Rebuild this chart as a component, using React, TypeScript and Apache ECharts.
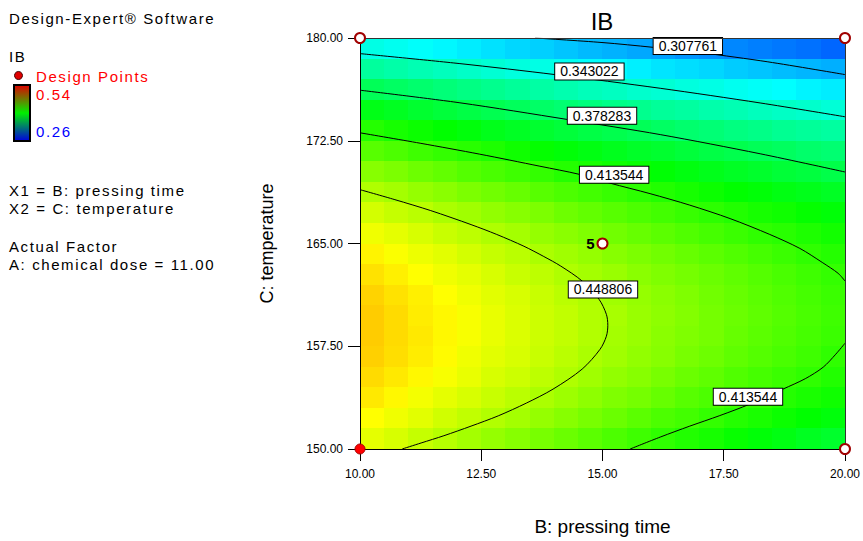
import React, { useEffect, useRef } from "react";
import * as echarts from "echarts";

const FONT = '"Liberation Sans", Arial, Helvetica, sans-serif';

// Factor axes: B = pressing time, C = temperature
const pressingTicks = [10, 12.5, 15, 17.5, 20];
const temperatureTicks = [150, 157.5, 165, 172.5, 180];

// Colour scale limits of the IB response
const ibRange = [0.26, 0.54];

// Cell centres of the predicted IB surface (chemical dose held at 11.00)
const cellCentresB = [10.25, 10.75, 11.25, 11.75, 12.25, 12.75, 13.25, 13.75, 14.25, 14.75, 15.25, 15.75, 16.25, 16.75, 17.25, 17.75, 18.25, 18.75, 19.25, 19.75];
const cellCentresC = [150.75, 152.25, 153.75, 155.25, 156.75, 158.25, 159.75, 161.25, 162.75, 164.25, 165.75, 167.25, 168.75, 170.25, 171.75, 173.25, 174.75, 176.25, 177.75, 179.25];
const CELL_W = 0.5;
const CELL_H = 1.5;

// Predicted IB, one row per temperature (150.75 upward), one column per pressing time
const ibSurface = [
  [0.463, 0.459, 0.454, 0.450, 0.445, 0.441, 0.437, 0.433, 0.429, 0.425, 0.421, 0.417, 0.413, 0.409, 0.406, 0.402, 0.398, 0.395, 0.391, 0.388],
  [0.470, 0.466, 0.462, 0.457, 0.453, 0.449, 0.445, 0.441, 0.437, 0.433, 0.429, 0.425, 0.421, 0.418, 0.414, 0.410, 0.407, 0.403, 0.400, 0.397],
  [0.476, 0.472, 0.467, 0.463, 0.459, 0.455, 0.451, 0.447, 0.443, 0.439, 0.435, 0.432, 0.428, 0.424, 0.421, 0.417, 0.414, 0.410, 0.407, 0.404],
  [0.480, 0.476, 0.472, 0.468, 0.464, 0.459, 0.456, 0.452, 0.448, 0.444, 0.440, 0.437, 0.433, 0.429, 0.426, 0.422, 0.419, 0.416, 0.413, 0.409],
  [0.483, 0.479, 0.475, 0.471, 0.466, 0.462, 0.459, 0.455, 0.451, 0.447, 0.444, 0.440, 0.437, 0.433, 0.430, 0.426, 0.423, 0.420, 0.417, 0.413],
  [0.484, 0.480, 0.476, 0.472, 0.468, 0.464, 0.460, 0.456, 0.453, 0.449, 0.445, 0.442, 0.438, 0.435, 0.432, 0.428, 0.425, 0.422, 0.419, 0.416],
  [0.484, 0.480, 0.475, 0.472, 0.468, 0.464, 0.460, 0.456, 0.453, 0.449, 0.446, 0.442, 0.439, 0.436, 0.432, 0.429, 0.426, 0.423, 0.420, 0.417],
  [0.482, 0.478, 0.474, 0.470, 0.466, 0.462, 0.459, 0.455, 0.451, 0.448, 0.444, 0.441, 0.438, 0.435, 0.431, 0.428, 0.425, 0.422, 0.419, 0.416],
  [0.478, 0.474, 0.470, 0.466, 0.463, 0.459, 0.455, 0.452, 0.448, 0.445, 0.442, 0.438, 0.435, 0.432, 0.429, 0.426, 0.423, 0.420, 0.417, 0.414],
  [0.473, 0.469, 0.465, 0.462, 0.458, 0.454, 0.451, 0.447, 0.444, 0.441, 0.437, 0.434, 0.431, 0.428, 0.425, 0.422, 0.419, 0.416, 0.413, 0.410],
  [0.466, 0.463, 0.459, 0.455, 0.452, 0.448, 0.445, 0.441, 0.438, 0.435, 0.431, 0.428, 0.425, 0.422, 0.419, 0.416, 0.413, 0.411, 0.408, 0.405],
  [0.458, 0.454, 0.451, 0.447, 0.444, 0.440, 0.437, 0.434, 0.430, 0.427, 0.424, 0.421, 0.418, 0.415, 0.412, 0.409, 0.406, 0.404, 0.401, 0.398],
  [0.448, 0.445, 0.441, 0.438, 0.434, 0.431, 0.428, 0.424, 0.421, 0.418, 0.415, 0.412, 0.409, 0.406, 0.403, 0.400, 0.398, 0.395, 0.393, 0.390],
  [0.437, 0.434, 0.430, 0.427, 0.423, 0.420, 0.417, 0.414, 0.410, 0.407, 0.404, 0.402, 0.399, 0.396, 0.393, 0.390, 0.388, 0.385, 0.383, 0.380],
  [0.424, 0.421, 0.417, 0.414, 0.411, 0.408, 0.404, 0.401, 0.398, 0.395, 0.392, 0.389, 0.387, 0.384, 0.381, 0.379, 0.376, 0.374, 0.371, 0.369],
  [0.410, 0.406, 0.403, 0.400, 0.397, 0.393, 0.390, 0.387, 0.384, 0.381, 0.379, 0.376, 0.373, 0.370, 0.368, 0.365, 0.363, 0.360, 0.358, 0.356],
  [0.394, 0.391, 0.387, 0.384, 0.381, 0.378, 0.375, 0.372, 0.369, 0.366, 0.363, 0.361, 0.358, 0.356, 0.353, 0.351, 0.348, 0.346, 0.344, 0.341],
  [0.376, 0.373, 0.370, 0.367, 0.364, 0.361, 0.358, 0.355, 0.352, 0.349, 0.347, 0.344, 0.342, 0.339, 0.337, 0.334, 0.332, 0.330, 0.327, 0.325],
  [0.357, 0.354, 0.351, 0.348, 0.345, 0.342, 0.339, 0.337, 0.334, 0.331, 0.329, 0.326, 0.323, 0.321, 0.319, 0.316, 0.314, 0.312, 0.310, 0.308],
  [0.337, 0.334, 0.331, 0.328, 0.325, 0.322, 0.319, 0.317, 0.314, 0.311, 0.309, 0.306, 0.304, 0.301, 0.299, 0.297, 0.295, 0.293, 0.291, 0.288],
];

// Contour lines of IB, as [pressing time, temperature] points
const contour307761 = [[13.61, 180], [14.99, 179.67], [16.04, 179.32], [17.05, 178.92], [18.41, 178.26], [20, 177.33]];
const contour343022 = [[10, 178.86], [12.06, 178.13], [14.02, 177.33], [16.19, 176.33], [18.25, 175.26], [20, 174.25]];
const contour378283 = [[10, 176.19], [12.06, 175.27], [14.28, 174.05], [16.19, 172.95], [18.25, 171.55], [20, 170.22]];
const contour413544Upper = [[10, 173.08], [11.24, 172.32], [12.47, 171.52], [13.71, 170.64], [14.52, 170.05], [15.15, 169.41], [15.98, 168.64], [16.8, 167.8], [17.63, 166.82], [18.45, 165.66], [19.07, 164.64], [19.53, 163.62], [19.86, 162.82], [20, 162.26]];
const contour413544Lower = [[20, 157.72], [19.81, 156.92], [19.55, 155.97], [19.18, 155.13], [18.72, 154.37], [18.04, 153.28], [17.42, 152.44], [16.8, 151.67], [16.19, 150.87], [15.57, 150]];
const contour448806 = [[10, 168.93], [10.72, 168.2], [11.46, 167.4], [12.29, 166.38], [12.82, 165.66], [13.38, 164.8], [13.79, 164.05], [14.14, 163.35], [14.58, 162.26], [14.93, 160.92], [15.08, 159.83], [15.11, 159.03], [15.08, 158.23], [14.95, 157.28], [14.58, 155.83], [13.98, 154.37], [13.43, 153.35], [12.85, 152.42], [12.29, 151.67], [11.73, 150.97], [11.26, 150.44], [10.87, 150]];

// Level labels placed on the contour lines
const contourLabels: [number, number, string][] = [
  [16.76, 179.42, "0.307761"],
  [14.73, 177.56, "0.343022"],
  [14.99, 174.32, "0.378283"],
  [15.24, 170.02, "0.413544"],
  [15.01, 161.65, "0.448806"],
  [18.0, 153.82, "0.413544"],
];

// Design points: factorial corners and centre point (5 replicates)
const designPointsOpen = [[10, 180], [20, 180], [20, 150]];
const designPointsFilled = [[10, 150]];
const centrePoint = [15, 165];
const centreReplicates = 5;

// Settings shown in the side panel
const chemicalDose = 11;
const factorNotes = ["X1 = B: pressing time", "X2 = C: temperature"];

const fmt2 = (v: number) => v.toFixed(2);

function buildPlotOption() {
  const fieldData: number[][] = [];
  ibSurface.forEach((row, j) =>
    row.forEach((v, i) => fieldData.push([cellCentresB[i], cellCentresC[j], v]))
  );

  const contourLines = [contour307761, contour343022, contour378283, contour413544Upper, contour413544Lower, contour448806];

  const axisCommon = {
    axisLine: { show: true, lineStyle: { color: "#000", width: 1 } },
    axisTick: { show: true, length: 12, inside: false, lineStyle: { color: "#000", width: 1 } },
    splitLine: { show: false },
    z: 10,
  };
  const frameAxis = {
    axisLine: { show: true, lineStyle: { color: "#333", width: 1 } },
    axisTick: { show: false },
    axisLabel: { show: false },
    splitLine: { show: false },
    z: 10,
  };

  const bMin = pressingTicks[0];
  const bMax = pressingTicks[pressingTicks.length - 1];
  const cMin = temperatureTicks[0];
  const cMax = temperatureTicks[temperatureTicks.length - 1];

  return {
    animation: false,
    textStyle: { fontFamily: FONT },
    grid: { left: 360, top: 38, width: 485, height: 412, show: false },
    xAxis: [
      {
        type: "value",
        position: "bottom",
        min: bMin,
        max: bMax,
        interval: pressingTicks[1] - pressingTicks[0],
        name: "B: pressing time",
        nameLocation: "middle",
        nameGap: 68,
        nameTextStyle: { fontSize: 19, color: "#000", fontFamily: FONT },
        axisLabel: { fontSize: 12, color: "#000", margin: 19, formatter: fmt2, fontFamily: FONT },
        ...axisCommon,
      },
      { type: "value", position: "top", min: bMin, max: bMax, ...frameAxis },
    ],
    yAxis: [
      {
        type: "value",
        position: "left",
        min: cMin,
        max: cMax,
        interval: temperatureTicks[1] - temperatureTicks[0],
        name: "C: temperature",
        nameLocation: "middle",
        nameGap: 84,
        nameTextStyle: { fontSize: 18, color: "#000", fontFamily: FONT },
        axisLabel: { fontSize: 12, color: "#000", margin: 17, formatter: fmt2, fontFamily: FONT },
        ...axisCommon,
      },
      { type: "value", position: "right", min: cMin, max: cMax, ...frameAxis },
    ],
    visualMap: {
      type: "continuous",
      show: false,
      min: ibRange[0],
      max: ibRange[1],
      dimension: 2,
      seriesIndex: 0,
      inRange: { color: ["#0000ff", "#00ffff", "#00ff00", "#ffff00", "#ff0000"] },
    },
    graphic: [
      {
        type: "text",
        x: 602,
        y: 21.5,
        style: {
          text: "IB",
          fill: "#000",
          fontSize: 24,
          fontFamily: FONT,
          textAlign: "center",
          textVerticalAlign: "middle",
        },
      },
    ],
    series: [
      {
        type: "custom",
        name: "IB",
        z: 1,
        silent: true,
        data: fieldData,
        encode: { x: 0, y: 1 },
        renderItem: (_params: any, api: any) => {
          const cx = api.value(0);
          const cy = api.value(1);
          const a = api.coord([cx - CELL_W / 2, cy + CELL_H / 2]);
          const b = api.coord([cx + CELL_W / 2, cy - CELL_H / 2]);
          const x0 = Math.round(a[0]);
          const y0 = Math.round(a[1]);
          return {
            type: "rect",
            shape: { x: x0, y: y0, width: Math.round(b[0]) - x0, height: Math.round(b[1]) - y0 },
            style: { fill: api.visual("color") },
          };
        },
      },
      ...contourLines.map((pts) => ({
        type: "line",
        z: 3,
        silent: true,
        data: pts,
        smooth: 0.3,
        symbol: "none",
        lineStyle: { color: "#000", width: 1 },
      })),
      {
        type: "scatter",
        z: 4,
        silent: true,
        symbolSize: 1,
        itemStyle: { color: "rgba(0,0,0,0)", opacity: 1 },
        data: contourLabels.map(([x, y, t]) => ({ value: [x, y], label: { formatter: t } })),
        label: {
          show: true,
          position: "inside",
          color: "#000",
          fontSize: 14,
          fontFamily: FONT,
          backgroundColor: "#ffffff",
          borderColor: "#000",
          borderWidth: 1,
          padding: [1, 5, 1, 5],
          opacity: 1,
        },
      },
      {
        type: "scatter",
        z: 12,
        silent: true,
        clip: false,
        symbol: "circle",
        symbolSize: 10,
        itemStyle: { color: "#fff", borderColor: "#a00000", borderWidth: 2, opacity: 1 },
        data: [
          ...designPointsOpen,
          {
            value: centrePoint,
            label: {
              show: true,
              position: "left",
              distance: 2,
              formatter: String(centreReplicates),
              fontSize: 15,
              fontWeight: "bold",
              color: "#000",
              fontFamily: FONT,
            },
          },
        ],
      },
      {
        type: "scatter",
        z: 12,
        silent: true,
        clip: false,
        symbol: "circle",
        symbolSize: 10,
        itemStyle: { color: "#ff0000", borderColor: "#a00000", borderWidth: 1, opacity: 1 },
        data: designPointsFilled,
      },
    ],
  };
}

function buildNotesOption() {
  const note = (text: string, x: number, y: number, fill = "#000") => ({
    type: "text",
    x,
    y,
    style: { text, fill, fontSize: 15, fontFamily: FONT, textVerticalAlign: "middle" },
  });
  return {
    animation: false,
    graphic: [
      note("Design-Expert® Software", 9, 18.7),
      note("IB", 9, 56.3),
      {
        type: "circle",
        shape: { cx: 18.5, cy: 75.5, r: 4 },
        style: { fill: "#e00000", stroke: "#400000", lineWidth: 1 },
      },
      note("Design Points", 36, 76, "#ff0000"),
      {
        type: "rect",
        shape: { x: 14, y: 85, width: 16, height: 56 },
        style: {
          fill: new echarts.graphic.LinearGradient(0, 0, 0, 1, [
            { offset: 0, color: "#e00000" },
            { offset: 0.5, color: "#00f000" },
            { offset: 1, color: "#0000e0" },
          ]),
          stroke: "#000",
          lineWidth: 2,
        },
      },
      note(ibRange[1].toFixed(2), 36, 94.7, "#ff0000"),
      note(ibRange[0].toFixed(2), 36, 131.7, "#0000ff"),
      note(factorNotes[0], 9, 190),
      note(factorNotes[1], 9, 208.5),
      note("Actual Factor", 9, 246.5),
      note(`A: chemical dose = ${fmt2(chemicalDose)}`, 9, 264.5),
    ],
  };
}

export default function App() {
  const plotRef = useRef<HTMLDivElement>(null);
  const notesRef = useRef<HTMLDivElement>(null);

  useEffect(() => {
    if (!plotRef.current || !notesRef.current) return;
    const plot = echarts.init(plotRef.current, null, { renderer: "svg" });
    plot.setOption(buildPlotOption() as any);
    const notes = echarts.init(notesRef.current, null, { renderer: "svg" });
    notes.setOption(buildNotesOption() as any);
    return () => {
      plot.dispose();
      notes.dispose();
    };
  }, []);

  return (
    <div style={{ position: "fixed", left: 0, top: 0, width: 863, height: 541, background: "#fff" }}>
      <div ref={plotRef} style={{ position: "absolute", left: 0, top: 0, width: 863, height: 541 }} />
      <div
        ref={notesRef}
        style={{
          position: "absolute",
          left: 0,
          top: 0,
          width: 250,
          height: 290,
          letterSpacing: "1.6px",
          pointerEvents: "none",
        }}
      />
    </div>
  );
}
